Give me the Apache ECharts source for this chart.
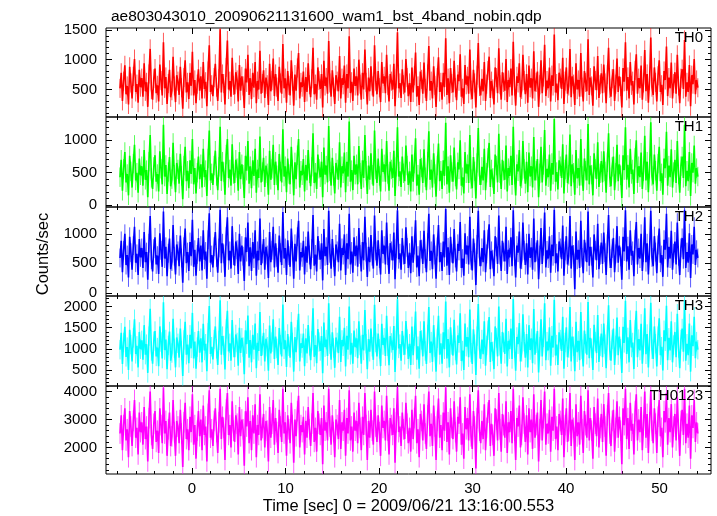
<!DOCTYPE html>
<html><head><meta charset="utf-8">
<script src="https://cdn.jsdelivr.net/npm/echarts@6/dist/echarts.min.js"></script>
<style>html,body{margin:0;padding:0;background:#fff}#c{width:717px;height:516px}</style>
</head><body><div id="c"></div>
<script>
const chartTitle = "ae803043010_20090621131600_wam1_bst_4band_nobin.qdp";
const xTitle = "Time [sec] 0 = 2009/06/21 13:16:00.553";
const yTitle = "Counts/sec";
const bandNames = ["TH0", "TH1", "TH2", "TH3", "TH0123"];
const bandColors = ["#ff0000", "#00ff00", "#0000ff", "#00ffff", "#ff00ff"];
const bandErrors = [160, 150, 160, 230, 370];   // typical 1-sigma error bar per bin
const binStart = -7.7, binSize = 0.129;
const xRange = [-9.2, 55.5];
const xMajor = [0, 10, 20, 30, 40, 50];
const xMinorStep = 2;
const yRanges = [[40, 1530], [-30, 1360], [-55, 1455], [120, 2250], [1050, 4200]];
const yMajorTicks = [[500, 1000, 1500], [0, 500, 1000], [0, 500, 1000], [500, 1000, 1500, 2000], [2000, 3000, 4000]];
const yMinorSteps = [100, 100, 100, 100, 200];

const th0 = [
520,780,310,640,905,420,560,250,880,610,350,720,1010,460,590,280,830,540,690,380,
940,470,620,210,760,1180,500,330,680,850,440,570,300,920,650,400,1290,520,710,260,
600,830,370,480,1050,560,290,740,640,410,880,530,180,700,990,450,620,340,780,560,
1130,400,660,270,590,840,480,720,350,960,510,630,220,810,1240,460,580,390,700,930,
540,310,680,1510,450,760,600,250,870,1320,500,640,380,1030,570,420,790,660,300,910,
480,720,560,190,850,620,1080,410,690,340,780,530,960,270,640,500,1150,430,600,820,
360,700,580,240,930,470,650,1020,390,760,540,310,880,610,430,1260,520,690,280,810,
570,400,990,640,230,750,480,860,1110,350,620,540,800,290,710,460,940,580,370,680,
1200,420,590,330,870,650,510,760,200,980,560,700,430,1310,610,380,820,540,260,740,
640,470,1060,350,690,580,900,280,760,520,1390,440,630,310,850,560,720,400,1000,590,
330,780,500,1170,620,250,700,470,890,560,380,1240,640,420,810,530,290,960,600,720,
440,1080,570,300,760,640,500,930,220,680,1460,520,610,360,840,580,450,1010,700,390,
610,290,870,450,730,1120,380,560,240,800,670,430,950,520,310,760,1230,480,640,350,
890,570,210,700,1040,460,620,330,780,540,1360,410,690,270,860,600,450,980,530,320,
750,640,1090,380,520,260,910,580,720,430,1170,490,340,830,610,200,740,1280,550,400,
680,470,960,310,590,820,1050,360,640,510,250,870,700,440,1190,580,330,790,620,480,
1010,290,660,540,850,400,1300,560,230,720,610,940,370,500,1080,650,420,760,280,900,
530,690,350,1140,470,620,800,210,580,990,440,710,1250,390,650,520,870,300,740,560,
1420,450,600,320,780,690,510,1030,260,640,870,430,560,1180,370,720,590,240,940,500,
660,380,1110,540,300,810,620,470,1340,410,700,560,230,890,650,490,1060,360,580,770,
440,920,610,270,750,1200,520,380,680,840,310,590,1020,460,720,550,200,860,630,1290,
480,710,350,960,570,640,250,820,1090,430,690,520,900,330,610,1160,470,760,280,650,
1370,540,410,870,620,300,730,990,460,580,240,810,660,1220,390,700,520,950,350,600,
790,430,1080,560,270,690,840,510,1330,380,620,460,910,220,740,590,1010,420,660,530];
const th1 = [
430,700,220,560,820,350,480,150,760,520,270,640,930,380,500,190,720,460,600,300,
850,390,540,120,670,1080,420,250,590,770,360,480,210,830,560,320,1240,440,620,170,
510,740,290,400,960,470,200,650,550,330,790,450,90,610,900,370,530,260,690,480,
1020,320,570,180,500,750,400,630,270,870,430,540,140,720,1150,380,490,310,610,840,
450,230,590,1210,370,670,510,160,780,1020,420,550,300,940,480,340,700,570,220,820,
400,630,470,110,760,530,990,330,600,260,690,450,870,190,550,420,1060,350,510,730,
280,610,490,160,840,390,560,930,310,670,460,230,790,520,350,1170,440,600,200,720,
480,320,900,550,150,660,400,770,1020,270,530,460,710,210,620,380,850,490,290,590,
1110,340,500,250,780,560,430,670,120,890,470,610,350,1220,520,300,730,450,180,650,
550,390,970,270,600,490,810,200,670,440,1290,360,540,230,760,470,630,320,910,500,
250,690,420,1080,530,170,610,390,800,470,300,1150,550,340,720,450,210,870,510,630,
360,990,480,220,670,550,420,840,140,590,1200,440,520,280,750,490,370,920,610,310,
520,210,780,360,640,1030,300,470,160,710,580,340,860,430,230,670,1140,390,550,270,
800,480,130,610,950,370,530,250,690,450,1270,320,600,190,770,510,360,890,440,240,
660,550,1000,300,430,180,820,490,630,340,1080,400,260,740,520,100,650,1190,460,310,
590,380,870,230,500,730,960,280,550,420,170,780,610,350,1100,490,250,700,530,390,
920,210,570,450,760,310,1210,470,150,630,520,850,290,410,990,560,330,670,200,810,
440,600,270,1050,380,530,710,120,490,900,350,620,1160,300,560,430,780,220,650,470,
1330,360,510,240,690,600,420,940,180,550,780,340,470,1090,290,630,500,160,850,410,
570,300,1020,450,220,720,530,380,1250,320,610,470,150,800,560,400,970,280,490,680,
350,830,520,190,660,1110,430,290,590,750,230,500,930,370,630,460,110,770,540,1200,
390,620,270,870,480,550,170,730,1000,340,600,430,810,250,520,1070,380,670,200,560,
1280,450,320,780,530,220,640,900,370,490,160,720,570,1130,300,610,430,860,270,510,
700,340,990,470,190,600,750,420,1240,290,530,370,820,140,650,500,920,330,570,440];
const th2 = [
590,880,350,720,1000,470,640,260,950,680,390,800,1120,510,660,300,910,600,760,420,
1030,520,690,220,840,1300,560,360,750,940,480,630,320,1010,720,440,1380,580,780,280,
670,920,400,530,1150,620,310,820,710,450,970,590,170,780,1090,500,690,370,860,620,
1240,440,730,290,650,930,530,800,380,1060,560,700,240,900,1350,510,640,430,780,1030,
600,340,760,1410,500,840,660,270,960,1280,550,710,410,1130,630,460,870,730,320,1000,
530,800,620,200,940,690,1190,450,770,370,860,580,1060,290,710,550,1260,470,660,910,
390,780,640,250,1030,520,720,1120,430,840,600,340,970,680,470,1370,580,760,300,890,
630,440,1090,710,240,830,530,950,1220,380,690,600,880,310,790,510,1040,640,400,750,
1320,460,650,360,960,720,560,840,210,1080,620,780,470,1390,670,410,910,600,280,820,
710,520,1170,380,760,640,990,300,840,570,1340,480,700,340,940,620,800,440,1100,650,
360,860,550,1290,690,270,780,520,980,620,410,1310,710,460,890,580,310,1060,660,800,
480,1190,630,320,840,710,550,1020,230,750,1400,570,670,390,930,640,490,1110,770,420,
680,330,960,510,810,1230,430,630,280,890,740,490,1050,580,350,850,1340,540,710,400,
990,640,240,780,1150,520,690,370,870,600,1420,460,770,300,950,670,500,1080,590,360,
830,710,1200,420,580,290,1010,650,800,480,1290,550,380,920,680,130,820,1390,610,450,
760,520,1060,350,660,910,1160,400,710,570,280,960,780,490,1310,640,370,880,690,530,
1120,320,730,600,940,450,1400,620,260,800,680,1040,410,560,1190,720,470,840,310,1000,
590,770,390,1260,520,690,890,230,640,1100,490,790,1360,430,720,580,960,340,820,620,
1410,500,670,360,870,760,570,1140,290,710,960,480,620,1300,410,800,650,60,1040,560,
730,420,1220,600,330,900,690,520,1380,460,780,620,260,990,720,550,1170,400,640,850,
490,1020,680,300,830,1320,580,420,750,930,350,660,1130,510,800,610,220,950,700,1400,
530,790,390,1060,630,710,280,910,1200,480,760,580,1000,370,680,1280,520,840,310,720,
1390,600,450,960,690,330,810,1090,510,640,270,900,730,1340,430,780,580,1050,390,670,
870,480,1190,620,300,760,930,570,1410,420,690,510,1010,250,820,650,1120,470,730,590];
const th3 = [
980,1380,640,1150,1520,810,1040,500,1450,1100,700,1260,1700,880,1070,560,1400,990,1200,740,
1560,860,1110,430,1300,1950,950,650,1180,1420,820,1030,590,1530,1160,770,2100,970,1220,520,
1080,1410,720,900,1710,1010,560,1270,1130,790,1480,960,360,1210,1640,860,1100,660,1330,1010,
1850,770,1170,530,1040,1420,910,1250,680,1590,960,1120,470,1380,2010,880,1050,750,1220,1530,
1000,620,1200,2150,860,1300,1080,510,1470,1900,940,1130,720,1680,1030,800,1340,1150,600,1500,
900,1260,1040,400,1440,1110,1790,790,1210,680,1330,980,1600,540,1140,950,1870,830,1070,1380,
700,1240,1050,480,1550,890,1160,1700,760,1290,1010,620,1490,1100,820,2050,990,1200,570,1350,
1060,790,1640,1150,460,1280,920,1450,1830,700,1130,1020,1360,590,1250,890,1560,1070,730,1190,
1960,810,1090,660,1470,1160,950,1300,420,1620,1040,1220,830,2080,1110,740,1390,1020,550,1270,
1150,900,1760,690,1210,1060,1500,580,1310,980,2000,860,1140,650,1430,1040,1250,780,1650,1080,
650,1330,960,1920,1120,520,1230,930,1480,1050,740,2040,1150,820,1360,1000,590,1590,1090,1260,
830,1780,1060,610,1300,1140,970,1540,450,1200,2170,1010,1110,720,1420,1080,860,1660,1230,760,
1120,620,1530,850,1300,1880,740,1060,530,1420,1210,820,1650,950,640,1340,1990,900,1170,690,
1560,1040,460,1250,1780,860,1130,650,1390,990,2120,770,1230,560,1510,1090,840,1690,960,630,
1320,1140,1840,710,960,500,1600,1050,1280,800,1930,910,640,1460,1110,380,1300,2060,1000,760,
1220,870,1650,600,1080,1440,1750,690,1160,940,520,1530,1260,820,2000,1070,650,1400,1150,880,
1710,580,1190,990,1480,760,2180,1020,480,1280,1110,1610,700,930,1820,1170,790,1350,560,1560,
970,1250,660,1940,860,1130,1420,440,1050,1700,820,1270,2080,730,1170,960,1510,600,1310,1030,
2160,840,1100,620,1390,1220,950,1760,530,1150,1510,800,1020,1990,700,1290,1060,470,1640,920,
1190,730,1870,990,580,1430,1120,860,2110,780,1260,1010,500,1570,1170,900,1800,690,1060,1360,
800,1600,1110,540,1330,2030,960,720,1220,1480,620,1080,1740,850,1290,1000,430,1520,1140,2140,
880,1270,680,1680,1030,1150,520,1450,1900,800,1230,960,1590,650,1100,1960,870,1350,560,1180,
2090,990,760,1530,1120,580,1300,1720,850,1050,490,1440,1180,2020,730,1260,960,1650,680,1090,
1400,800,1830,1020,540,1220,1480,930,2150,720,1120,850,1600,460,1320,1060,1760,780,1170,980];
const th0123 = [
2500,3150,1900,2800,3400,2250,2650,1650,3300,2750,2050,2950,3700,2350,2700,1750,3250,2550,2900,2100,
3450,2300,2750,1500,3050,4000,2450,1950,2850,3300,2200,2600,1800,3400,2800,2150,4150,2500,2950,1700,
2650,3250,2050,2400,3700,2550,1700,2950,2750,2150,3350,2500,1300,2900,3600,2300,2650,1900,3100,2550,
3900,2100,2800,1600,2600,3300,2400,3000,1900,3500,2450,2750,1500,3200,4050,2350,2650,2050,2950,3400,
2550,1800,2900,4100,2300,3100,2700,1550,3350,3950,2450,2800,2000,3650,2600,2200,3150,2850,1750,3450,
2400,3000,2650,1350,3300,2750,3800,2150,2950,1900,3150,2500,3550,1650,2800,2450,3900,2250,2700,3200,
2000,2950,2600,1500,3450,2350,2850,3700,2100,3050,2550,1800,3350,2750,2200,4100,2500,2900,1700,3150,
2650,2150,3600,2800,1450,3000,2400,3300,3850,2000,2800,2550,3100,1750,2950,2350,3450,2650,2050,2850,
3950,2200,2700,1850,3300,2850,2450,3050,1400,3500,2600,2900,2250,4100,2750,2100,3150,2550,1650,3000,
2800,2300,3700,1950,2900,2600,3350,1700,3050,2500,4050,2250,2750,1850,3250,2600,2950,2150,3600,2700,
1900,3100,2450,3950,2800,1550,2950,2350,3350,2600,2100,4000,2750,2200,3150,2550,1700,3500,2700,2950,
2250,3850,2600,1750,3050,2800,2450,3400,1450,2900,4150,2550,2750,2050,3250,2650,2300,3600,2850,2150,
2700,1850,3350,2300,3050,3850,2150,2650,1650,3200,2950,2250,3550,2500,1950,3150,4000,2400,2850,2050,
3500,2750,1550,2950,3750,2350,2800,1900,3250,2600,4150,2200,2900,1750,3400,2700,2300,3650,2550,1850,
3100,2850,3800,2100,2500,1600,3450,2650,3050,2250,3900,2400,1950,3300,2750,1250,3050,4050,2600,2150,
2950,2300,3550,1900,2700,3250,3700,2050,2850,2450,1700,3400,3000,2250,3950,2650,1850,3200,2800,2350,
3650,1800,2900,2550,3300,2150,4100,2600,1550,3050,2750,3500,2000,2450,3800,2850,2200,3150,1750,3400,
2550,3000,1950,3900,2350,2800,3250,1500,2650,3700,2250,3050,4000,2100,2850,2500,3350,1850,3100,2600,
4100,2300,2750,1900,3200,2950,2450,3750,1650,2800,3400,2200,2600,3950,2050,3000,2700,1550,3550,2400,
2900,2100,3850,2650,1800,3300,2800,2350,4050,2250,3050,2600,1600,3450,2850,2400,3750,2000,2700,3200,
2200,3550,2750,1700,3150,3950,2500,2050,2950,3350,1850,2700,3650,2350,3100,2600,1400,3400,2800,4100,
2300,3050,1950,3600,2600,2850,1750,3300,3900,2250,3000,2550,3450,1900,2800,4000,2350,3200,1800,2900,
4050,2600,2150,3400,2850,1800,3100,3700,2400,2700,1650,3300,2900,3950,2100,3050,2550,3550,2000,2750,
3200,2250,3800,2650,1700,2950,3350,2450,4100,2150,2850,2350,3500,1600,3150,2700,3700,2200,2900,2500];
const bandValues = [th0, th1, th2, th3, th0123];

// ---- layout ----
const W = 717, H = 516;
const plotLeft = 106, plotRight = 711;
const panelEdges = [28, 117, 207, 296, 386, 476];
const FONT = "'Liberation Sans', Arial, Helvetica, sans-serif";
const tickFont = 15;

function stepValues(lo, hi, step) {
  const out = [];
  for (let v = Math.ceil(lo / step) * step; v <= hi + 1e-9; v += step) out.push(+v.toFixed(6));
  return out;
}
const xMinor = stepValues(xRange[0], xRange[1], xMinorStep);
const plain = v => String(v);

const grids = [], xAxes = [], yAxes = [], series = [], graphics = [];
bandNames.forEach((name, i) => {
  grids.push({
    left: plotLeft, width: plotRight - plotLeft,
    top: panelEdges[i], height: panelEdges[i + 1] - panelEdges[i],
    show: true, borderColor: '#000', borderWidth: 1, backgroundColor: 'transparent'
  });
  const isLast = i === bandNames.length - 1;
  const xBase = { type: 'value', gridIndex: i, min: xRange[0], max: xRange[1],
    splitLine: { show: false }, axisLine: { show: false, onZero: false } };
  const mkX = (pos, vals, len, label) => Object.assign({}, xBase, {
    position: pos,
    axisTick: { show: true, inside: true, length: len, customValues: vals, lineStyle: { color: '#000', width: 1 } },
    axisLabel: label ? { show: true, customValues: xMajor, formatter: plain, color: '#000', fontSize: tickFont, fontFamily: FONT, margin: 7 } : { show: false },
    name: (label ? xTitle : ''), nameLocation: 'middle', nameGap: 24,
    nameTextStyle: { color: '#000', fontSize: 16.5, fontFamily: FONT, verticalAlign: 'top' }
  });
  const xIdx = xAxes.length;
  xAxes.push(mkX('bottom', xMajor, 6, isLast));
  xAxes.push(mkX('bottom', xMinor, 3, false));
  xAxes.push(mkX('top', xMajor, 6, false));
  xAxes.push(mkX('top', xMinor, 3, false));

  const yr = yRanges[i];
  const yMinor = stepValues(yr[0], yr[1], yMinorSteps[i]);
  const yBase = { type: 'value', gridIndex: i, min: yr[0], max: yr[1],
    splitLine: { show: false }, axisLine: { show: false, onZero: false } };
  const mkY = (pos, vals, len, label) => Object.assign({}, yBase, {
    position: pos,
    axisTick: { show: true, inside: true, length: len, customValues: vals, lineStyle: { color: '#000', width: 1 } },
    axisLabel: label ? { show: true, customValues: yMajorTicks[i], formatter: plain, color: '#000', fontSize: tickFont, fontFamily: FONT, margin: 9 } : { show: false }
  });
  const yIdx = yAxes.length;
  yAxes.push(mkY('left', yMajorTicks[i], 6, true));
  yAxes.push(mkY('left', yMinor, 3, false));
  yAxes.push(mkY('right', yMajorTicks[i], 6, false));
  yAxes.push(mkY('right', yMinor, 3, false));

  const vals = bandValues[i];
  const color = bandColors[i];
  // error bars (lighter)
  series.push({
    type: 'custom', name: name + ' err', xAxisIndex: xIdx, yAxisIndex: yIdx,
    data: vals.map((v, k) => [binStart + k * binSize, v, bandErrors[i]]),
    encode: { x: 0, y: 1 }, clip: true, z: 1,
    renderItem: (params, api) => {
      const x = api.value(0), y = api.value(1), e = api.value(2);
      const p1 = api.coord([x, y - e]), p2 = api.coord([x, y + e]);
      return { type: 'line', shape: { x1: p1[0], y1: p1[1], x2: p2[0], y2: p2[1] },
        style: { stroke: color, lineWidth: 1, opacity: 0.65 } };
    }
  });
  series.push({
    type: 'line', name: name, xAxisIndex: xIdx, yAxisIndex: yIdx,
    data: vals.map((v, k) => [binStart + k * binSize, v]),
    showSymbol: false, symbol: 'none', sampling: null,
    lineStyle: { color: color, width: 1.6 }, itemStyle: { color: color },
    clip: true, z: 2
  });

  graphics.push({
    type: 'text', right: W - 703, top: panelEdges[i] + 2,
    style: { text: name, fill: '#000', font: '15px ' + FONT, textAlign: 'right' }, z: 10
  });
});

graphics.push({
  type: 'text', x: 43, y: 254, rotation: Math.PI / 2,
  style: { text: yTitle, fill: '#000', font: '16.5px ' + FONT, textAlign: 'center', textVerticalAlign: 'middle' }
});

const chart = echarts.init(document.getElementById('c'), null, { renderer: 'canvas', width: W, height: H });
chart.setOption({
  animation: false,
  backgroundColor: '#fff',
  title: { text: chartTitle, left: plotLeft, top: 4,
    textStyle: { color: '#000', fontSize: 15.5, fontWeight: 'normal', fontFamily: FONT } },
  grid: grids, xAxis: xAxes, yAxis: yAxes, series: series, graphic: graphics
});
</script></body></html>
